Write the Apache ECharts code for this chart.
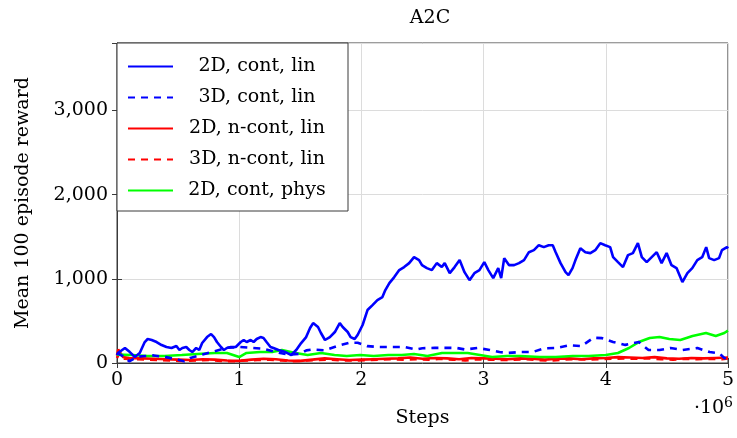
<!DOCTYPE html>
<html>
<head>
<meta charset="utf-8">
<script src="https://cdn.jsdelivr.net/npm/echarts@6/dist/echarts.min.js"></script>
<style>
  html, body { margin: 0; padding: 0; background: #fff; }
  #chart { width: 737px; height: 438px; }
</style>
</head>
<body>
<div id="chart"></div>
<script>
// legend names
const seriesNames = ['2D, cont, lin', '3D, cont, lin', '2D, n-cont, lin', '3D, n-cont, lin', '2D, cont, phys']

// 2D, cont, lin (steps in millions)
const blue2dX = [0.00,0.008,0.065,0.105,0.146,0.186,0.227,0.251,0.284,0.324,0.365,0.405,0.446,0.486,0.511,0.535,0.567,0.592,0.616,0.648,0.673,0.697,0.737,0.770,0.794,0.818,0.851,0.875,0.899,0.932,0.972,1.013,1.037,1.061,1.094,1.118,1.143,1.175,1.199,1.224,1.256,1.280,1.321,1.378,1.426,1.467,1.507,1.548,1.580,1.605,1.645,1.669,1.702,1.742,1.783,1.823,1.847,1.888,1.912,1.945,1.969,2.010,2.050,2.091,2.131,2.172,2.196,2.229,2.269,2.310,2.350,2.391,2.431,2.472,2.496,2.536,2.577,2.617,2.658,2.682,2.723,2.763,2.804,2.844,2.885,2.925,2.966,3.006,3.039,3.079,3.120,3.144,3.169,3.209,3.250,3.290,3.331,3.371,3.412,3.452,3.493,3.533,3.566,3.590,3.630,3.671,3.695,3.728,3.752,3.792,3.833,3.874,3.914,3.955,3.995,4.036,4.060,4.100,4.141,4.182,4.222,4.263,4.295,4.335,4.376,4.417,4.457,4.498,4.538,4.579,4.627,4.668,4.708,4.749,4.789,4.822,4.846,4.887,4.927,4.951,4.992,5.00]
const blue2dY = [95,119,178,130,71,119,249,285,273,249,213,190,178,202,154,178,190,154,130,178,154,237,308,344,308,249,190,154,178,190,190,249,273,249,273,249,285,308,297,249,190,178,154,130,95,154,237,308,415,474,427,356,273,308,368,474,427,368,308,285,332,451,629,688,747,783,866,949,1020,1103,1139,1186,1257,1222,1162,1127,1103,1186,1139,1186,1067,1139,1222,1079,984,1067,1103,1198,1103,1008,1127,1008,1245,1162,1162,1186,1222,1316,1340,1399,1376,1399,1399,1316,1186,1079,1044,1127,1222,1364,1316,1305,1340,1423,1399,1376,1257,1198,1139,1281,1305,1423,1257,1198,1257,1316,1186,1305,1162,1127,961,1067,1127,1222,1257,1376,1245,1222,1245,1340,1376,1360]

// 3D, cont, lin
const blue3dX = [0,0.05,0.1,0.15,0.2,0.3,0.4,0.5,0.55,0.6,0.7,0.8,0.9,1.0,1.1,1.2,1.3,1.4,1.5,1.55,1.6,1.7,1.8,1.9,1.97,2.05,2.15,2.25,2.35,2.45,2.5,2.6,2.7,2.78,2.85,2.95,3.05,3.13,3.2,3.3,3.4,3.5,3.6,3.7,3.8,3.9,3.97,4.06,4.16,4.27,4.35,4.44,4.53,4.63,4.75,4.85,4.93,4.97,5.0]
const blue3dY = [120,80,20,60,80,90,70,40,20,60,100,140,180,190,180,170,130,100,110,150,160,150,200,240,240,200,190,190,190,160,175,180,180,178,160,178,155,130,120,130,130,175,180,210,200,300,295,250,215,250,155,155,178,155,178,130,115,60,40]

// 2D, n-cont, lin
const red2dX = [0,0.01,0.05,0.1,0.2,0.3,0.4,0.5,0.6,0.7,0.8,0.9,1.0,1.1,1.2,1.3,1.4,1.5,1.6,1.7,1.8,1.9,2.0,2.1,2.2,2.3,2.4,2.5,2.6,2.7,2.8,2.9,3.0,3.1,3.2,3.3,3.4,3.5,3.6,3.7,3.8,3.9,4.0,4.1,4.2,4.3,4.4,4.5,4.6,4.7,4.8,4.9,5.0]
const red2dY = [90,160,70,60,55,50,45,40,35,45,40,30,25,40,50,45,30,25,40,55,45,35,40,45,50,55,65,50,60,55,45,60,55,50,45,55,50,40,50,55,45,55,60,70,65,60,70,55,50,60,55,60,65]

// 3D, n-cont, lin
const red3dX = [0,0.02,0.06,0.15,0.25,0.35,0.45,0.55,0.65,0.75,0.85,0.95,1.05,1.15,1.25,1.35,1.45,1.55,1.65,1.75,1.85,1.95,2.05,2.15,2.25,2.35,2.45,2.55,2.65,2.75,2.85,2.95,3.05,3.15,3.25,3.35,3.45,3.55,3.65,3.75,3.85,3.95,4.05,4.15,4.25,4.35,4.45,4.55,4.65,4.75,4.85,4.95,5.0]
const red3dY = [60,120,50,45,40,35,30,25,30,35,25,20,30,35,40,30,20,30,35,40,30,30,35,40,45,40,45,40,50,40,30,45,40,35,40,45,35,30,40,45,40,45,50,55,50,55,45,40,50,45,50,45,55]

// 2D, cont, phys
const greenX = [0,0.01,0.12,0.25,0.39,0.53,0.66,0.8,0.9,1.0,1.06,1.17,1.27,1.35,1.46,1.56,1.67,1.78,1.88,1.99,2.1,2.22,2.33,2.43,2.54,2.66,2.78,2.87,2.97,3.07,3.19,3.3,3.46,3.59,3.73,3.86,4.0,4.10,4.19,4.27,4.36,4.44,4.52,4.61,4.71,4.82,4.90,4.97,5.0]
const greenY = [100,95,95,83,83,95,107,119,119,71,119,130,130,154,119,95,119,95,83,95,83,95,95,107,83,119,119,119,95,71,83,83,71,71,83,83,95,119,178,249,297,308,285,273,320,356,320,356,385]

const toPairs = (xs, ys) => xs.map((x, i) => [x, ys[i]])

const serif = 'DejaVu Serif'
const frame = '#3a3a3a'
const gridColor = '#dcdcdc'

const chart = echarts.init(document.getElementById('chart'))

const lineSeries = (name, xs, ys, color, dashed) => ({
  name,
  type: 'line',
  data: toPairs(xs, ys),
  showSymbol: false,
  symbol: 'circle',
  smooth: false,
  lineStyle: { color, width: 2.6, type: dashed ? [7, 6] : 'solid' },
  itemStyle: { color }
})

chart.setOption({
  animation: false,
  title: {
    text: 'A2C',
    left: 425,
    top: 4,
    textAlign: 'center',
    textStyle: { fontFamily: serif, fontSize: 19, fontWeight: 'normal', color: '#000' }
  },
  grid: {
    left: 117, right: 3, top: 43, bottom: 75,
    show: true, borderColor: frame, borderWidth: 1, backgroundColor: 'transparent'
  },
  legend: {
    data: seriesNames,
    orient: 'vertical',
    left: 117, top: 43,
    padding: [14, 12, 11, 10],
    itemGap: 12,
    itemWidth: 45,
    itemHeight: 14,
    itemStyle: { opacity: 0 },
    backgroundColor: '#fff',
    borderColor: frame,
    borderWidth: 1,
    borderRadius: 0,
    formatter: n => '{t|' + n + '}',
    textStyle: {
      rich: { t: { width: 158, align: 'center', fontFamily: serif, fontSize: 19, lineHeight: 23, color: '#000' } }
    }
  },
  xAxis: [{
    type: 'value', min: 0, max: 5, interval: 1,
    name: 'Steps', nameLocation: 'middle', nameGap: 46,
    nameTextStyle: { fontFamily: serif, fontSize: 19, color: '#000' },
    axisLine: { show: true, lineStyle: { color: frame } },
    axisTick: { show: true, inside: true, length: 5, lineStyle: { color: frame } },
    axisLabel: { fontFamily: serif, fontSize: 19, color: '#000', margin: 8 },
    splitLine: { show: true, lineStyle: { color: gridColor } }
  }, {
    type: 'value', min: 0, max: 5, interval: 1, position: 'top',
    axisLine: { show: false },
    axisTick: { show: true, inside: true, length: 5, lineStyle: { color: frame } },
    axisLabel: { show: false },
    splitLine: { show: false }
  }],
  yAxis: [{
    type: 'value', min: 0, max: 3800, interval: 1000,
    name: 'Mean 100 episode reward', nameLocation: 'middle', nameGap: 84, nameRotate: 90,
    nameTextStyle: { fontFamily: serif, fontSize: 19, color: '#000' },
    axisLine: { show: true, lineStyle: { color: frame } },
    axisTick: { show: true, inside: true, length: 5, lineStyle: { color: frame } },
    axisLabel: {
      fontFamily: serif, fontSize: 19, color: '#000', margin: 9, showMaxLabel: false,
      formatter: v => v.toLocaleString('en-US')
    },
    splitLine: { show: true, lineStyle: { color: gridColor } }
  }, {
    type: 'value', min: 0, max: 3800, interval: 1000, position: 'right',
    axisLine: { show: false },
    axisTick: { show: true, inside: true, length: 5, lineStyle: { color: frame } },
    axisLabel: { show: false },
    splitLine: { show: false }
  }],
  graphic: [{
    type: 'text',
    right: 4,
    top: 396,
    style: {
      text: '·10{s|6}',
      font: '19px "DejaVu Serif"',
      fill: '#000',
      rich: { s: { fontFamily: serif, fontSize: 14, verticalAlign: 'top', padding: [0, 0, 10, 0] } }
    }
  }],
  series: [
    lineSeries(seriesNames[2], red2dX, red2dY, '#ff0000', false),
    lineSeries(seriesNames[3], red3dX, red3dY, '#ff0000', true),
    lineSeries(seriesNames[4], greenX, greenY, '#00ff00', false),
    lineSeries(seriesNames[1], blue3dX, blue3dY, '#0000ff', true),
    lineSeries(seriesNames[0], blue2dX, blue2dY, '#0000ff', false)
  ]
})
</script>
</body>
</html>
